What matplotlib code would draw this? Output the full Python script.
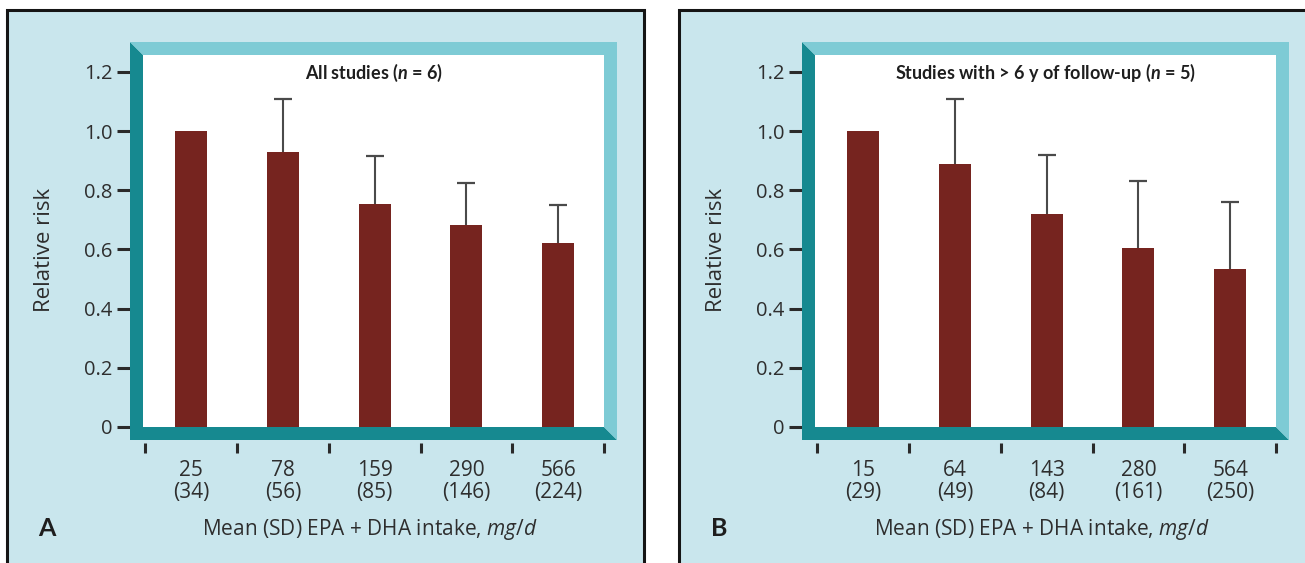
import numpy as np
import matplotlib
matplotlib.use("Agg")
from matplotlib import pyplot as plt
from matplotlib.patches import Rectangle, Polygon

plt.rcParams['font.family'] = ['Open Sans', 'DejaVu Sans']
plt.rcParams['mathtext.fontset'] = 'custom'
plt.rcParams['mathtext.rm'] = 'Open Sans'
plt.rcParams['mathtext.it'] = 'Open Sans:italic'
plt.rcParams['mathtext.bf'] = 'Lato:bold'
plt.rcParams['mathtext.bfit'] = 'Lato:italic:bold'

# data
means_a = [25, 78, 159, 290, 566]
sds_a = [34, 56, 85, 146, 224]
rr_a = [1.0, 0.93, 0.755, 0.684, 0.623]
upper_a = [np.nan, 1.108, 0.916, 0.826, 0.750]

means_b = [15, 64, 143, 280, 564]
sds_b = [29, 49, 84, 161, 250]
rr_b = [1.0, 0.887, 0.721, 0.606, 0.534]
upper_b = [np.nan, 1.108, 0.918, 0.832, 0.761]

yticks = [0, 0.2, 0.4, 0.6, 0.8, 1.0, 1.2]
ytick_labels = ['0', '0.2', '0.4', '0.6', '0.8', '1.0', '1.2']

BG = '#c9e6ed'
DARK = '#168990'
LIGHT = '#7ecbd5'
BAR = '#76241f'
TXT = '#2e2e2e'

W, H = 1305, 563
fig = plt.figure(figsize=(W / 100, H / 100), dpi=100)
fig.patch.set_facecolor('white')


def fx(x):
    return x / W


def fy(y):
    return 1 - y / H


def panel(dx, letter, title, means, sds, rr, upper):
    # light blue card with black border
    fig.add_artist(Rectangle((fx(7 + dx), fy(570)), fx(637), 560 / H,
                             transform=fig.transFigure, facecolor=BG,
                             edgecolor='#151515', lw=2.2, zorder=0))

    # bevelled frame round the plot area
    x0, x1, yt, yb, t = 143 + dx, 604 + dx, 55, 427, 13
    dark = [(x0 - t, yt - t), (x0, yt), (x0, yb), (x1, yb), (x1 + t, yb + t), (x0 - t, yb + t)]
    light = [(x0 - t, yt - t), (x1 + t, yt - t), (x1 + t, yb + t), (x1, yb), (x1, yt), (x0, yt)]
    for pts, c in ((dark, DARK), (light, LIGHT)):
        fig.add_artist(Polygon([(fx(a), fy(b)) for a, b in pts], closed=True,
                               transform=fig.transFigure, facecolor=c,
                               edgecolor='none', zorder=5))

    ax = fig.add_axes([fx(x0), fy(yb), (x1 - x0) / W, (yb - yt) / H])
    ax.set_facecolor('white')
    x = np.arange(len(rr))
    ax.bar(x, rr, width=0.35, color=BAR, zorder=3)
    up = np.array(upper)
    ok = ~np.isnan(up)
    ax.vlines(x[ok], np.array(rr)[ok], up[ok], color='#4a4a4a', lw=1.5, zorder=2)
    ax.plot(x[ok], up[ok], ls='none', marker='_', ms=13, mew=1.6, color='#4a4a4a', zorder=2)

    ax.set_xlim(-0.525, 4.5)
    ax.set_ylim(0, 1.257)
    for s in ax.spines.values():
        s.set_visible(False)
    ax.spines['left'].set_position(('outward', 9.4))
    ax.spines['bottom'].set_position(('outward', 11.5))

    ax.set_yticks(yticks, ytick_labels)
    ax.tick_params(axis='y', direction='out', length=9.5, width=2.2, color='#2a2a2a',
                   pad=3, labelsize=14.5, labelcolor=TXT)
    ax.set_xticks(np.arange(len(rr) + 1) - 0.5, [''] * (len(rr) + 1))
    ax.tick_params(axis='x', which='major', direction='out', length=7.5, width=2.2,
                   color='#2a2a2a')
    ax.set_xticks(x, ['%d\n(%d)' % (m, s) for m, s in zip(means, sds)], minor=True)
    ax.tick_params(axis='x', which='minor', length=0, pad=12, labelsize=15, labelcolor=TXT)
    for lbl in ax.get_xticklabels(minor=True):
        lbl.set_linespacing(1.1)

    ax.text(0.5, 0.952, title, transform=ax.transAxes, ha='center', va='center',
            fontsize=13, fontweight='bold', family='Lato', color='#1e1e1e')

    fig.text(fx(45 + dx), fy(250), 'Relative risk', rotation=90, ha='center',
             va='center', fontsize=16, color=TXT)
    fig.text(fx(370 + dx), fy(529), r'Mean (SD) EPA + DHA intake, $\mathit{mg/d}$',
             ha='center', va='center', fontsize=15, color=TXT)
    fig.text(fx(47 + dx), fy(529), letter, ha='center', va='center', fontsize=18,
             fontweight='bold', family='Lato', color='#1e1e1e')
    return ax


panel(0, 'A', r'All studies ($\mathbfit{n}$ = 6)', means_a, sds_a, rr_a, upper_a)
panel(672, 'B', r'Studies with > 6 y of follow-up ($\mathbfit{n}$ = 5)',
      means_b, sds_b, rr_b, upper_b)

fig.savefig('out.png', dpi=100)
